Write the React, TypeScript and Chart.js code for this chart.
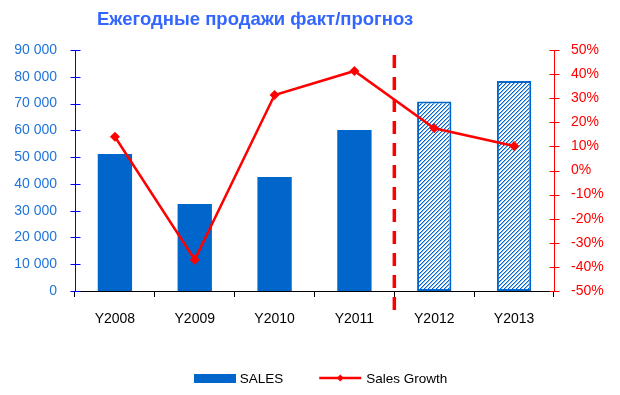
import React, { useEffect, useRef } from 'react';
import { Chart, registerables } from 'chart.js';

Chart.register(...registerables);

const categories = ['Y2008', 'Y2009', 'Y2010', 'Y2011', 'Y2012', 'Y2013'];
const sales = [51200, 32500, 42600, 60100, 70800, 78400];
const growth = [14.0, -37.0, 31.3, 41.3, 17.5, 10.2];
const forecastStart = 4; // index of first forecast category
const titleText = 'Ежегодные продажи факт/прогноз';
const salesLabel = 'SALES';
const growthLabel = 'Sales Growth';
const salesAxis = { min: 0, max: 90000, step: 10000 };
const growthAxis = { min: -50, max: 50, step: 10 };

const FONT = "'Liberation Sans', Arial, sans-serif";
const BAR_BLUE = '#0066CC';
const AXIS_BLUE = '#0000FF';
const LABEL_BLUE = '#1f74dc';
const RED = '#FF0000';

function makeHatch(): CanvasPattern | string {
  const c = document.createElement('canvas');
  const n = 4;
  c.width = n;
  c.height = n;
  const ctx = c.getContext('2d');
  if (!ctx) return BAR_BLUE;
  const img = ctx.createImageData(n, n);
  for (let y = 0; y < n; y++) {
    for (let x = 0; x < n; x++) {
      const i = (y * n + x) * 4;
      const k = (x + y) % n;
      const a = k === 0 ? 1 : k === 1 ? 0.45 : 0;
      img.data[i] = Math.round(255 * (1 - a) + 0x00 * a);
      img.data[i + 1] = Math.round(255 * (1 - a) + 0x66 * a);
      img.data[i + 2] = Math.round(255 * (1 - a) + 0xcc * a);
      img.data[i + 3] = 255;
    }
  }
  ctx.putImageData(img, 0, 0);
  const p = ctx.createPattern(c, 'repeat');
  return p || BAR_BLUE;
}

const fmtThousands = (v: number) =>
  String(v).replace(/\B(?=(\d{3})+(?!\d))/g, ' ');

const axisTicksPlugin = {
  id: 'axisTicks',
  afterDraw(chart: any) {
    const ctx = chart.ctx;
    const draw = (scale: any, x: number, color: string) => {
      ctx.save();
      ctx.strokeStyle = color;
      ctx.lineWidth = 1;
      ctx.beginPath();
      scale.ticks.forEach((_t: any, i: number) => {
        const y = Math.round(scale.getPixelForTick(i)) + 0.5;
        ctx.moveTo(x - 5, y);
        ctx.lineTo(x + 5, y);
      });
      ctx.stroke();
      ctx.restore();
    };
    const y = chart.scales.y;
    const y1 = chart.scales.y1;
    draw(y, Math.round(y.right) + 0.5, AXIS_BLUE);
    draw(y1, Math.round(y1.left) + 0.5, RED);
  },
};

const dividerPlugin = {
  id: 'divider',
  afterDatasetsDraw(chart: any) {
    const xs = chart.scales.x;
    const area = chart.chartArea;
    const x =
      (xs.getPixelForValue(forecastStart - 1) + xs.getPixelForValue(forecastStart)) / 2;
    const ctx = chart.ctx;
    ctx.save();
    ctx.strokeStyle = RED;
    ctx.lineWidth = 3.5;
    ctx.setLineDash([13, 9]);
    ctx.beginPath();
    ctx.moveTo(x, area.top + 5);
    ctx.lineTo(x, area.bottom + 24);
    ctx.stroke();
    ctx.restore();
  },
};

const titleLegendPlugin = {
  id: 'titleLegend',
  afterDraw(chart: any) {
    const ctx = chart.ctx;
    const area = chart.chartArea;
    ctx.save();
    // title
    ctx.font = `bold 18.5px ${FONT}`;
    ctx.fillStyle = '#3366FF';
    ctx.textBaseline = 'middle';
    ctx.textAlign = 'left';
    ctx.fillText(titleText, area.left + 22, 20);

    // legend
    ctx.font = `13.5px ${FONT}`;
    const w1 = ctx.measureText(salesLabel).width;
    const w2 = ctx.measureText(growthLabel).width;
    const total = 42 + 4 + w1 + 36 + 42 + 5 + w2;
    let x = (area.left + area.right) / 2 + 6 - total / 2;
    const y = chart.height - 17;
    ctx.fillStyle = BAR_BLUE;
    ctx.fillRect(Math.round(x), y - 4, 42, 9);
    x += 46;
    ctx.fillStyle = '#000000';
    ctx.fillText(salesLabel, x, y + 1);
    x += w1 + 36;
    ctx.strokeStyle = RED;
    ctx.lineWidth = 2.5;
    ctx.beginPath();
    ctx.moveTo(x, y);
    ctx.lineTo(x + 42, y);
    ctx.stroke();
    ctx.fillStyle = RED;
    const cx = x + 21;
    ctx.beginPath();
    ctx.moveTo(cx - 3.5, y);
    ctx.lineTo(cx, y - 3.5);
    ctx.lineTo(cx + 3.5, y);
    ctx.lineTo(cx, y + 3.5);
    ctx.closePath();
    ctx.fill();
    x += 47;
    ctx.fillStyle = '#000000';
    ctx.fillText(growthLabel, x, y + 1);
    ctx.restore();
  },
};

export default function App() {
  const ref = useRef<HTMLCanvasElement | null>(null);

  useEffect(() => {
    if (!ref.current) return;
    const hatch = makeHatch();
    const bg = sales.map((_, i) => (i >= forecastStart ? hatch : BAR_BLUE));
    const bw = sales.map((_, i) => (i >= forecastStart ? 2 : 0));

    const chart = new Chart(ref.current, {
      type: 'bar',
      data: {
        labels: categories,
        datasets: [
          {
            type: 'line',
            label: growthLabel,
            data: growth,
            yAxisID: 'y1',
            borderColor: RED,
            backgroundColor: RED,
            borderWidth: 2.5,
            pointStyle: 'rectRot',
            pointRadius: 5,
            pointBackgroundColor: RED,
            pointBorderColor: RED,
            pointBorderWidth: 0,
            tension: 0,
            order: 0,
          } as any,
          {
            type: 'bar',
            label: salesLabel,
            data: sales,
            yAxisID: 'y',
            backgroundColor: bg as any,
            borderColor: BAR_BLUE,
            borderWidth: bw,
            borderSkipped: false,
            categoryPercentage: 1,
            barPercentage: 0.43,
            order: 1,
          } as any,
        ],
      },
      options: {
        responsive: false,
        animation: false,
        layout: { padding: { top: 50, bottom: 64, left: 0, right: 0 } },
        plugins: {
          legend: { display: false },
          title: { display: false },
          tooltip: { enabled: false },
        },
        scales: {
          x: {
            offset: true,
            grid: {
              display: true,
              drawOnChartArea: false,
              drawTicks: true,
              tickLength: 6,
              color: '#000000',
              offset: true,
            },
            border: { display: true, color: '#000000', width: 1 },
            ticks: {
              color: '#000000',
              font: { family: FONT, size: 14 },
              padding: 14,
              maxRotation: 0,
            },
            afterFit: (s: any) => {
              s.height = 40;
            },
          },
          y: {
            position: 'left',
            min: salesAxis.min,
            max: salesAxis.max,
            grid: { display: false, drawTicks: false },
            border: { display: true, color: AXIS_BLUE, width: 1 },
            ticks: {
              stepSize: salesAxis.step,
              color: LABEL_BLUE,
              font: { family: FONT, size: 14 },
              padding: 18,
              callback: (v: any) => fmtThousands(Number(v)),
            },
            afterFit: (s: any) => {
              s.width = 75;
            },
          },
          y1: {
            position: 'right',
            min: growthAxis.min,
            max: growthAxis.max,
            grid: { display: false, drawTicks: false },
            border: { display: true, color: RED, width: 1 },
            ticks: {
              stepSize: growthAxis.step,
              color: RED,
              font: { family: FONT, size: 14 },
              padding: 17,
              callback: (v: any) => `${v}%`,
            },
            afterFit: (s: any) => {
              s.width = 66;
            },
          },
        },
      },
      plugins: [axisTicksPlugin, dividerPlugin, titleLegendPlugin],
    });
    return () => chart.destroy();
  }, []);

  return (
    <canvas
      ref={ref}
      width={620}
      height={395}
      style={{ position: 'absolute', left: 0, top: 0, display: 'block' }}
    />
  );
}
